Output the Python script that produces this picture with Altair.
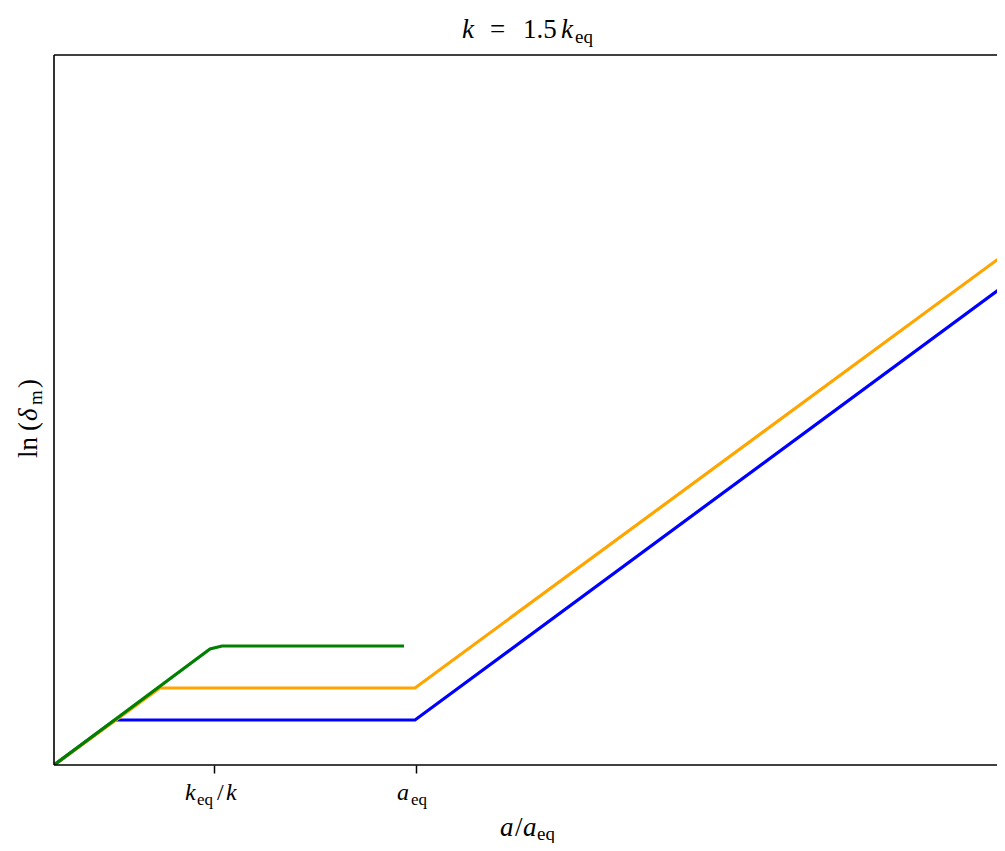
import altair as alt
import pandas as pd

# ---- data (x ~ ln a, y ~ ln delta_m, arbitrary units) ----
blue_x = [0.0, 0.61, 3.61, 9.51]
blue_y = [0.0, 0.45, 0.45, 4.80]
orange_x = [0.0, 1.06, 3.61, 9.51]
orange_y = [0.0, 0.77, 0.77, 5.11]
green_x = [0.0, 1.56, 1.68, 3.50]
green_y = [0.0, 1.16, 1.19, 1.19]

tick_values = [1.60, 3.62]          # k_eq/k , a_eq
x_domain = [0, 9.43]                # visible part of the axis (right edge is cut by the frame)
y_domain = [0, 7.10]

FONT = "Liberation Serif"
W, H = 943, 710
TICK_FS, TICK_SUB = 24, 17
LAB_FS, LAB_SUB = 27, 19

xs = alt.Scale(domain=x_domain, nice=False, zero=False)
ys = alt.Scale(domain=y_domain, nice=False, zero=False)
x_axis = alt.Axis(values=tick_values, labels=False, ticks=True, tickSize=8,
                  tickWidth=1.5, tickColor="black", domain=False, grid=False,
                  title=None)


def line(xv, yv, color):
    df = pd.DataFrame({"x": xv, "y": yv, "i": list(range(len(xv)))})
    return alt.Chart(df).mark_line(color=color, strokeWidth=3.2, clip=True).encode(
        x=alt.X("x:Q", scale=xs, axis=x_axis),
        y=alt.Y("y:Q", scale=ys, axis=None),
        order="i:O",
    )


layers = [line(blue_x, blue_y, "#0000ff"),
          line(orange_x, orange_y, "#ffa500"),
          line(green_x, green_y, "#008000")]

# frame: top, left and bottom spines (the right one lies outside the picture)
spine = alt.Chart(pd.DataFrame({"s": [0]})).mark_rule(color="black", strokeWidth=1.6)
layers += [
    spine.encode(x=alt.value(0), x2=alt.value(W), y=alt.value(0)),
    spine.encode(x=alt.value(0), x2=alt.value(W), y=alt.value(H)),
    spine.encode(x=alt.value(0), y=alt.value(0), y2=alt.value(H)),
]

# ---- tick labels (math pieces anchored on the tick values) ----
# (tick index, text, dx, is_sub, italic)
tick_pieces = [
    (0, "k", -29, False, True),
    (0, "eq", -17, True, False),
    (0, "/", 3, False, False),
    (0, "k", 12, False, True),
    (1, "a", -19, False, True),
    (1, "eq", -5, True, False),
]
for ti, txt, dx, sub, it in tick_pieces:
    df = pd.DataFrame({"x": [tick_values[ti]], "t": [txt]})
    layers.append(
        alt.Chart(df).mark_text(
            font=FONT, fontSize=TICK_SUB if sub else TICK_FS,
            fontStyle="italic" if it else "normal", align="left",
            baseline="alphabetic", dx=dx, color="black",
        ).encode(
            x=alt.X("x:Q", scale=xs, axis=x_axis),
            y=alt.value(750 if sub else 745),
            text="t:N",
        )
    )


def piece(txt, px, py, size, italic, angle=0):
    df = pd.DataFrame({"t": [txt]})
    kw = dict(font=FONT, fontSize=size, fontStyle="italic" if italic else "normal",
              align="left", baseline="alphabetic", color="black")
    if angle:
        kw["angle"] = angle
    return alt.Chart(df).mark_text(**kw).encode(
        x=alt.value(px), y=alt.value(py), text="t:N")


# title  k = 1.5 k_eq
TY = -17.3
layers += [
    piece("k", 408, TY, LAB_FS, True),
    piece("=", 436, TY, LAB_FS, False),
    piece("1.5", 469, TY, LAB_FS, False),
    piece("k", 507, TY, LAB_FS, True),
    piece("eq", 521, TY + 5, LAB_SUB, False),
]
# x title  a / a_eq
XY = 781
layers += [
    piece("a", 446, XY, LAB_FS, True),
    piece("/", 461, XY, LAB_FS, False),
    piece("a", 469, XY, LAB_FS, True),
    piece("eq", 483, XY + 4, LAB_SUB, False),
]
# y title  ln (delta_m), rotated
layers += [
    piece("ln", -17, 403, LAB_FS, False, 270),
    piece("(", -17, 376, LAB_FS, False, 270),
    piece("δ", -17, 366, LAB_FS, True, 270),
    piece("m", -12, 350, LAB_SUB, False, 270),
    piece(")", -17, 333, LAB_FS, False, 270),
]

chart = alt.layer(*layers).properties(
    width=W, height=H,
    autosize=alt.AutoSizeParams(type="none"),
    padding={"left": 46, "top": 47, "right": 0, "bottom": 78},
    background="white",
).configure_view(stroke=None)

chart.save("out.html", embed_options={"renderer": "svg", "actions": False})
